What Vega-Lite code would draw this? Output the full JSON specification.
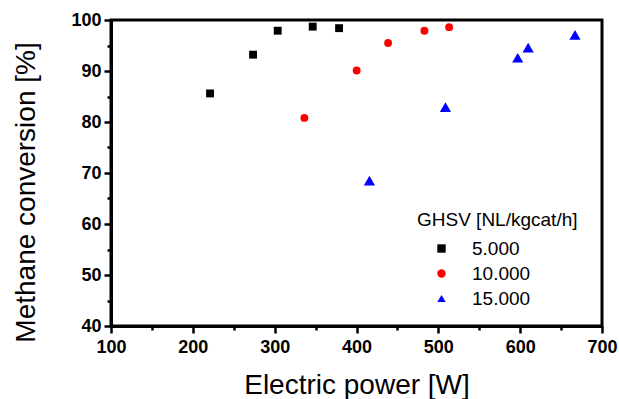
{
  "$schema": "https://vega.github.io/schema/vega-lite/v6.json",
  "width": 491,
  "height": 306,
  "autosize": {"type": "none"},
  "padding": {"left": 111, "top": 20, "right": 17, "bottom": 73},
  "config": {
    "view": {"stroke": "black", "strokeWidth": 3},
    "font": "Liberation Sans"
  },
  "data": {
    "values": [
      {"power": 221, "conv": 85.6, "ghsv": "5.000"},
      {"power": 273.6, "conv": 93.2, "ghsv": "5.000"},
      {"power": 303.7, "conv": 97.9, "ghsv": "5.000"},
      {"power": 346.5, "conv": 98.7, "ghsv": "5.000"},
      {"power": 378.7, "conv": 98.4, "ghsv": "5.000"},
      {"power": 336.3, "conv": 80.8, "ghsv": "10.000"},
      {"power": 400.2, "conv": 90.1, "ghsv": "10.000"},
      {"power": 438.6, "conv": 95.5, "ghsv": "10.000"},
      {"power": 483, "conv": 97.9, "ghsv": "10.000"},
      {"power": 513.2, "conv": 98.6, "ghsv": "10.000"},
      {"power": 415.8, "conv": 68.5, "ghsv": "15.000"},
      {"power": 508.7, "conv": 82.9, "ghsv": "15.000"},
      {"power": 597, "conv": 92.6, "ghsv": "15.000"},
      {"power": 609.8, "conv": 94.6, "ghsv": "15.000"},
      {"power": 667, "conv": 97.1, "ghsv": "15.000"}
    ]
  },
  "layer": [
    {
      "mark": {"type": "point", "opacity": 0},
      "encoding": {
        "x": {
          "field": "power", "type": "quantitative",
          "scale": {"domain": [100, 700], "nice": false, "zero": false},
          "axis": {"orient": "bottom", "values": [150, 250, 350, 450, 550, 650], "labels": false, "domain": false, "grid": false, "title": null, "tickColor": "black", "tickWidth": 2.5, "tickSize": 4}
        },
        "y": {
          "field": "conv", "type": "quantitative",
          "scale": {"domain": [40, 100], "nice": false, "zero": false},
          "axis": {"orient": "left", "values": [45, 55, 65, 75, 85, 95], "labels": false, "domain": false, "grid": false, "title": null, "tickColor": "black", "tickWidth": 2.5, "tickSize": 4}
        }
      }
    },
    {
      "mark": {"type": "point", "filled": true, "opacity": 1},
      "encoding": {
        "x": {
          "field": "power", "type": "quantitative",
          "scale": {"domain": [100, 700], "nice": false, "zero": false},
          "axis": {
            "orient": "bottom", "values": [100, 200, 300, 400, 500, 600, 700],
            "grid": false, "domainColor": "black", "domainWidth": 3,
            "tickColor": "black", "tickWidth": 2.5, "tickSize": 7,
            "labelFontWeight": "bold", "labelFontSize": 18, "labelColor": "black",
            "labelPadding": 5, "labelFlush": false, "labelOverlap": false,
            "title": "Electric power [W]", "titleFontSize": 28, "titleFontWeight": "normal",
            "titleColor": "black", "titleY": 67, "titleBaseline": "alphabetic"
          }
        },
        "y": {
          "field": "conv", "type": "quantitative",
          "scale": {"domain": [40, 100], "nice": false, "zero": false},
          "axis": {
            "orient": "left", "values": [40, 50, 60, 70, 80, 90, 100],
            "grid": false, "domainColor": "black", "domainWidth": 3,
            "tickColor": "black", "tickWidth": 2.5, "tickSize": 7,
            "labelFontWeight": "bold", "labelFontSize": 18, "labelColor": "black",
            "labelPadding": 3, "labelFlush": false, "labelOverlap": false,
            "title": "Methane conversion [%]", "titleFontSize": 28, "titleFontWeight": "normal",
            "titleColor": "black", "titleX": -77, "titleY": 172, "titleBaseline": "alphabetic", "titleAngle": -90
          }
        },
        "color": {
          "field": "ghsv", "type": "nominal", "title": "GHSV [NL/kgcat/h]",
          "scale": {"domain": ["5.000", "10.000", "15.000"], "range": ["#000000", "#ff0000", "#0000ff"]},
          "legend": {
            "orient": "none", "legendX": 306, "legendY": 191, "padding": 0,
            "titleFontSize": 19, "titleFontWeight": "normal", "titleColor": "black", "titlePadding": 9,
            "labelFontSize": 19, "labelColor": "black", "symbolOffset": 15, "labelOffset": 21,
            "rowPadding": 5, "symbolStrokeWidth": 0, "symbolSize": 70
          }
        },
        "shape": {
          "field": "ghsv", "type": "nominal", "title": "GHSV [NL/kgcat/h]",
          "scale": {"domain": ["5.000", "10.000", "15.000"], "range": ["square", "circle", "triangle-up"]}
        },
        "size": {
          "condition": {"test": "datum.ghsv === '15.000'", "value": 125},
          "value": 62
        }
      }
    }
  ],
  "resolve": {"axis": {"x": "independent", "y": "independent"}}
}
